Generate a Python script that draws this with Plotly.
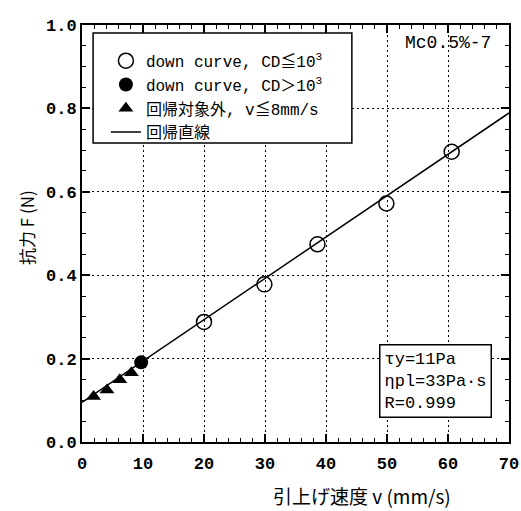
import plotly.graph_objects as go

# data
v_open = [20.0, 29.9, 38.6, 49.9, 60.6]
F_open = [0.288, 0.378, 0.474, 0.572, 0.696]
v_fill = [9.7]
F_fill = [0.191]
v_tri = [1.9, 4.1, 6.2, 8.1]
F_tri = [0.109, 0.125, 0.149, 0.166]
v_fit = [0.0, 70.0]
F_fit = [0.095, 0.789]

x_ticks = [0, 10, 20, 30, 40, 50, 60, 70]
y_ticks = [0.0, 0.2, 0.4, 0.6, 0.8, 1.0]

FONT = "Liberation Mono, Noto Sans CJK JP"
JFONT = "Noto Sans CJK JP"

fig = go.Figure()
fig.add_trace(go.Scatter(x=v_fit, y=F_fit, mode="lines", name="回帰直線", legendrank=4,
                         line=dict(color="black", width=1.5)))
fig.add_trace(go.Scatter(x=v_open, y=F_open, mode="markers", legendrank=1,
                         name="down curve, CD≦10<sup>3</sup>",
                         marker=dict(symbol="circle-open", size=15, color="black", line=dict(width=1.5))))
fig.add_trace(go.Scatter(x=v_fill, y=F_fill, mode="markers", legendrank=2,
                         name="down curve, CD＞10<sup>3</sup>",
                         marker=dict(symbol="circle", size=14, color="black")))
fig.add_trace(go.Scatter(x=v_tri, y=F_tri, mode="markers", legendrank=3,
                         name="回帰対象外, v≦8mm/s",
                         marker=dict(symbol="triangle-up", size=13, color="black")))

axis_common = dict(showline=True, linecolor="black", linewidth=2, mirror="ticks",
                   ticks="inside", ticklen=8, tickwidth=1.5, tickcolor="black",
                   showgrid=True, gridcolor="black", gridwidth=1.2, griddash="2px,3px",
                   zeroline=False, automargin=False,
                   tickfont=dict(family=FONT, size=17, color="black", weight="bold"))

fig.update_xaxes(range=[0, 70], tickvals=x_ticks, ticktext=[str(t) for t in x_ticks],
                 ticklabelstandoff=5,
                 minor=dict(dtick=2, ticks="inside", ticklen=4, tickwidth=1.2, tickcolor="black", showgrid=False),
                 **axis_common)
fig.update_yaxes(range=[0, 1.0], tickvals=y_ticks, ticktext=["%.1f" % t for t in y_ticks],
                 minor=dict(dtick=0.05, ticks="inside", ticklen=4, tickwidth=1.2, tickcolor="black", showgrid=False),
                 **axis_common)

fig.update_layout(
    width=521, height=511,
    margin=dict(l=82, r=12, t=25, b=69, autoexpand=False),
    plot_bgcolor="white", paper_bgcolor="white",
    showlegend=True,
    legend=dict(x=0.056, y=0.955, xanchor="left", yanchor="top",
                bgcolor="rgba(0,0,0,0)", borderwidth=0,
                font=dict(family=FONT, size=16, color="black"),
                tracegroupgap=0, itemwidth=30),
    shapes=[
        dict(type="rect", xref="paper", yref="paper", x0=0.026, x1=0.632, y0=0.717, y1=0.981,
             fillcolor="white", line=dict(color="black", width=1.5), layer="above"),
    ],
    annotations=[
        dict(text="Mc0.5%-7", xref="paper", yref="paper", x=0.963, y=0.957,
             xanchor="right", yanchor="middle", showarrow=False,
             font=dict(family=FONT, size=18, color="black")),
        dict(text="τy=11Pa<br>ηpl=33Pa·s<br>R=0.999", xref="paper", yref="paper",
             x=0.96, y=0.058, xanchor="right", yanchor="bottom", align="left",
             showarrow=False, bgcolor="white", bordercolor="black", borderwidth=1.5,
             borderpad=4, font=dict(family=FONT, size=17, color="black")),
        dict(text="引上げ速度 v (mm/s)", xref="paper", yref="paper", x=0.655, y=-0.128,
             xanchor="center", yanchor="middle", showarrow=False,
             font=dict(family=JFONT, size=19, color="black")),
        dict(text="抗力 F (N)", xref="paper", yref="paper", x=0, xshift=-56, y=0.513,
             xanchor="center", yanchor="middle", showarrow=False, textangle=-90,
             font=dict(family=JFONT, size=17, color="black")),
    ],
)

fig.write_html("out.html", config={"displayModeBar": False},
               post_script="document.body.style.margin='0';")
